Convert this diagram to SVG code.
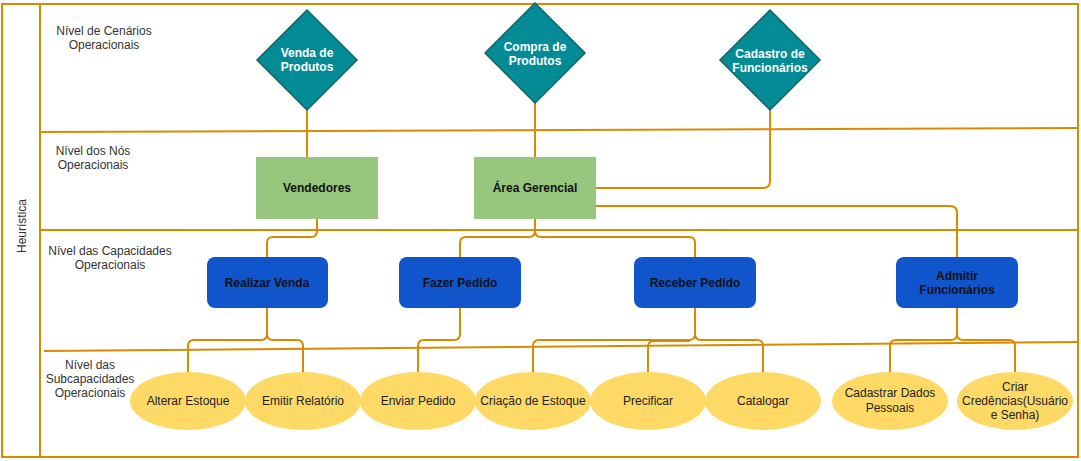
<svg xmlns="http://www.w3.org/2000/svg" width="1081" height="461" viewBox="0 0 1081 461">
<style>
.lane{stroke:#DA8A00;stroke-width:2;fill:none}
.lbl{font-family:"Liberation Sans",Arial,sans-serif;font-size:12px;fill:#333;text-anchor:middle}
.dia{fill:#038C95;stroke:#10626A;stroke-width:1.5}
.dt{font-family:"Liberation Sans",Arial,sans-serif;font-size:12px;font-weight:bold;fill:#fff;text-anchor:middle}
.grn{fill:#97C67F}
.blu{fill:#1155CC}
.bt{font-family:"Liberation Sans",Arial,sans-serif;font-size:12px;font-weight:bold;fill:#111;text-anchor:middle}
.ell{fill:#FFD966}
.et{font-family:"Liberation Sans",Arial,sans-serif;font-size:12px;fill:#222;text-anchor:middle}
.con{stroke:#DA8A00;stroke-width:2;fill:none}
</style>
<g id="lanes">
<rect x="2" y="4" width="1076" height="453" fill="#FBD089" class="lane"/>
<line x1="40" y1="4" x2="40" y2="457" class="lane"/>
<line x1="40" y1="132" x2="1078" y2="128" class="lane"/>
<line x1="40" y1="230" x2="1078" y2="230" class="lane"/>
<line x1="44" y1="351" x2="1078" y2="342" class="lane"/>
<text class="lbl" transform="translate(26,226) rotate(-90)">Heurística</text>
<text class="lbl" x="104" y="35">Nível de Cenários</text>
<text class="lbl" x="104" y="49">Operacionais</text>
<text class="lbl" x="93" y="155">Nível dos Nós</text>
<text class="lbl" x="93" y="169">Operacionais</text>
<text class="lbl" x="110" y="255">Nível das Capacidades</text>
<text class="lbl" x="110" y="269">Operacionais</text>
<text class="lbl" x="90" y="369">Nível das</text>
<text class="lbl" x="90" y="383">Subcapacidades</text>
<text class="lbl" x="90" y="397">Operacionais</text>
</g>
<g id="connectors">
<path class="con" d="M307,110 V157"/>
<path class="con" d="M535,103 V157"/>
<path class="con" d="M770,110 V181 Q770,188 763,188 H596"/>
<path class="con" d="M596,206 H950 Q957,206 957,213 V257"/>
<path class="con" d="M317,219 V231 Q317,237 311,237 H273 Q267,237 267,243 V257"/>
<path class="con" d="M535,219 V231 Q535,237 529,237 H466 Q460,237 460,243 V257"/>
<path class="con" d="M535,231 Q535,237 541,237 H689 Q695,237 695,243 V257"/>
<path class="con" d="M267,308 V334 Q267,340 261,340 H194 Q188,340 188,346 V372"/>
<path class="con" d="M267,334 Q267,340 273,340 H297 Q303,340 303,346 V372"/>
<path class="con" d="M460,308 V334 Q460,340 454,340 H424 Q418,340 418,346 V372"/>
<path class="con" d="M695,308 V334 Q695,340 689,340 H539 Q533,340 533,346 V372"/>
<path class="con" d="M695,334 Q695,340 701,340 H757 Q763,340 763,346 V372"/>
<path class="con" d="M648,372 V347 Q648,341 654,341 H690"/>
<path class="con" d="M957,308 V334 Q957,340 951,340 H896 Q890,340 890,346 V372"/>
<path class="con" d="M957,334 Q957,340 963,340 H1009 Q1015,340 1015,346 V372"/>
</g>
<g id="venda-produtos">
<polygon class="dia" points="307,10 357,60 307,110 257,60"/>
<text class="dt" x="307" y="57">Venda de</text>
<text class="dt" x="307" y="71">Produtos</text>
</g>
<g id="compra-produtos">
<polygon class="dia" points="535,3 585,53 535,103 485,53"/>
<text class="dt" x="535" y="51">Compra de</text>
<text class="dt" x="535" y="65">Produtos</text>
</g>
<g id="cadastro-funcionarios">
<polygon class="dia" points="770,10 820,60 770,110 720,60"/>
<text class="dt" x="770" y="58">Cadastro de</text>
<text class="dt" x="770" y="72">Funcionários</text>
</g>
<g id="vendedores">
<rect class="grn" x="256" y="157" width="122" height="62"/>
<text class="bt" x="317" y="192">Vendedores</text>
</g>
<g id="area-gerencial">
<rect class="grn" x="474" y="157" width="122" height="62"/>
<text class="bt" x="535" y="192">Área Gerencial</text>
</g>
<g id="realizar-venda">
<rect class="blu" x="207" y="257" width="121" height="51" rx="8"/>
<text class="bt" x="267" y="287">Realizar Venda</text>
</g>
<g id="fazer-pedido">
<rect class="blu" x="399" y="257" width="122" height="51" rx="8"/>
<text class="bt" x="460" y="287">Fazer Pedido</text>
</g>
<g id="receber-pedido">
<rect class="blu" x="634" y="257" width="122" height="51" rx="8"/>
<text class="bt" x="695" y="287">Receber Pedido</text>
</g>
<g id="admitir-funcionarios">
<rect class="blu" x="896" y="257" width="122" height="51" rx="8"/>
<text class="bt" x="957" y="280">Admitir</text>
<text class="bt" x="957" y="294">Funcionários</text>
</g>
<g id="alterar-estoque">
<ellipse class="ell" cx="188" cy="401" rx="58" ry="29"/>
<text class="et" x="188" y="405">Alterar Estoque</text>
</g>
<g id="emitir-relatorio">
<ellipse class="ell" cx="303" cy="401" rx="58" ry="29"/>
<text class="et" x="303" y="405">Emitir Relatório</text>
</g>
<g id="enviar-pedido">
<ellipse class="ell" cx="418" cy="401" rx="58" ry="29"/>
<text class="et" x="418" y="405">Enviar Pedido</text>
</g>
<g id="criacao-estoque">
<ellipse class="ell" cx="533" cy="401" rx="58" ry="29"/>
<text class="et" x="533" y="405">Criação de Estoque</text>
</g>
<g id="precificar">
<ellipse class="ell" cx="648" cy="401" rx="58" ry="29"/>
<text class="et" x="648" y="405">Precificar</text>
</g>
<g id="catalogar">
<ellipse class="ell" cx="763" cy="401" rx="58" ry="29"/>
<text class="et" x="763" y="405">Catalogar</text>
</g>
<g id="cadastrar-dados">
<ellipse class="ell" cx="890" cy="401" rx="58" ry="29"/>
<text class="et" x="890" y="397">Cadastrar Dados</text>
<text class="et" x="890" y="412">Pessoais</text>
</g>
<g id="criar-credenciais">
<ellipse class="ell" cx="1015" cy="401" rx="58" ry="29"/>
<text class="et" x="1015" y="391">Criar</text>
<text class="et" x="1015" y="405">Credências(Usuário</text>
<text class="et" x="1015" y="419">e Senha)</text>
</g>
</svg>
